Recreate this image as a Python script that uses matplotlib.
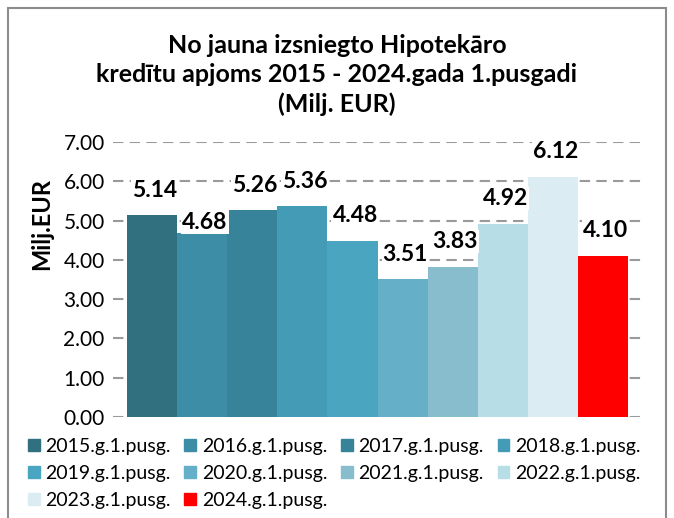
import numpy as np
import matplotlib
matplotlib.use("Agg")
import matplotlib.pyplot as plt
from matplotlib.patches import Rectangle

plt.rcParams['font.family'] = ['Lato', 'DejaVu Sans']

# data
periods = ["2015.g.1.pusg.", "2016.g.1.pusg.", "2017.g.1.pusg.", "2018.g.1.pusg.",
           "2019.g.1.pusg.", "2020.g.1.pusg.", "2021.g.1.pusg.", "2022.g.1.pusg.",
           "2023.g.1.pusg.", "2024.g.1.pusg."]
values = [5.14, 4.68, 5.26, 5.36, 4.48, 3.51, 3.83, 4.92, 6.12, 4.10]
colors = ["#31717F", "#3C8DA5", "#37839A", "#449BB5", "#4AA5C1",
          "#65AFC8", "#88BDCE", "#B7DDE7", "#DBEDF3", "#FF0000"]
yticks = [0, 1, 2, 3, 4, 5, 6, 7]

title = "No jauna izsniegto Hipotekāro\nkredītu apjoms 2015 - 2024.gada 1.pusgadi\n(Milj. EUR)"

fig = plt.figure(figsize=(6.74, 5.18), dpi=100)
W, H = 674, 518
ax = fig.add_axes([113 / W, 1 - 417 / H, (645 - 113) / W, (417 - 142) / H])

x = np.arange(len(values))
ax.bar(x, values, width=1.0, color=colors, zorder=2)

ax.set_xlim(-0.5 - 14 / 50.1, 9.5 + 17 / 50.1)
ax.set_ylim(0, 7)
ax.set_yticks(yticks)
ax.set_yticklabels([f"{t:.2f}" for t in yticks], fontsize=15)
ax.set_xticks([])
ax.tick_params(axis='y', length=0, pad=6)
for s in ax.spines.values():
    s.set_visible(False)
ax.yaxis.grid(True, color="#9a9a9a", linestyle=(0, (5, 3)), linewidth=1.5, zorder=0)
ax.set_axisbelow(True)
ax.set_ylabel("Milj.EUR", fontsize=17, fontweight='bold')
ax.yaxis.set_label_coords(-0.112, 0.70)

# data labels (Excel nudged 2016 label down)
nudge = {1: -10}
for i, v in enumerate(values):
    ax.annotate(f"{v:.2f}", (x[i], v), xytext=(2, 18 + nudge.get(i, 0)),
                textcoords="offset points", ha='center', va='center',
                fontsize=16.5, fontweight='bold', zorder=4,
                bbox=dict(boxstyle='square,pad=0.05', fc='white', ec='none'))

fig.text(0.5, 1 - 75 / H, title, ha='center', va='center', fontsize=18,
         fontweight='bold', linespacing=1.3)

# legend filled row by row: 4 columns, 3 rows
ncol = 4
order = [i for c in range(ncol) for i in range(c, len(periods), ncol)]
handles = [Rectangle((0, 0), 1, 1, color=colors[i]) for i in order]
labels = [periods[i] for i in order]
fig.legend(handles, labels, loc='upper left', bbox_to_anchor=(22 / W, 1 - 432 / H),
           ncol=ncol, frameon=False, fontsize=14, handlelength=0.6, handleheight=0.6,
           handletextpad=0.3, columnspacing=0.7, labelspacing=0.52,
           borderaxespad=0, borderpad=0.3)

# chart border
fig.add_artist(Rectangle((8 / W, -0.05), (666 - 8) / W, 1.05 - 8 / H,
                         transform=fig.transFigure, fill=False, ec="#8c8c8c", lw=1.5))

fig.savefig("out.png", dpi=100)
